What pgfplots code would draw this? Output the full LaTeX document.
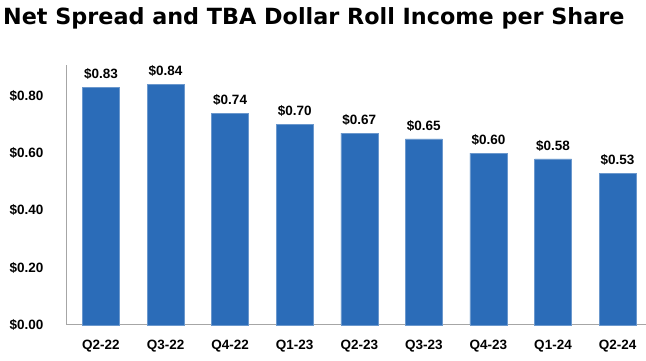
\documentclass[border=0pt]{standalone}
\usepackage{pgfplots}
\pgfplotsset{compat=1.18}
\usepackage{fontspec}
\setmainfont{Liberation Sans}
\newfontfamily\titlefont{DejaVu Sans}
\definecolor{barblue}{HTML}{2B6CB8}
\definecolor{axgray}{HTML}{A6A6A6}
\begin{document}
\begin{tikzpicture}
\useasboundingbox (-67pt,-36pt) rectangle (579pt,325pt);
\begin{axis}[
  at={(0pt,0pt)}, anchor=south west,
  scale only axis, width=579pt, height=260pt,
  xmin=-0.526, xmax=8.44, ymin=0, ymax=0.908,
  axis x line*=bottom, axis y line*=left,
  axis line style={axgray, line width=1pt},
  /pgf/number format/assume math mode=true,
  xtick=data,
  xticklabels={Q2-22,Q3-22,Q4-22,Q1-23,Q2-23,Q3-23,Q4-23,Q1-24,Q2-24},
  ytick={0,0.2,0.4,0.6,0.8},
  yticklabels={\$0.00,\$0.20,\$0.40,\$0.60,\$0.80},
  major tick length=0pt,
  tick label style={font=\fontsize{13.5}{15}\selectfont\bfseries},
  xticklabel style={yshift=-12pt},
  yticklabel style={xshift=-20pt},
  ybar, bar width=37pt,
  nodes near coords={\$\pgfmathprintnumber[fixed,fixed zerofill,precision=2,assume math mode=true]{\pgfplotspointmeta}},
  nodes near coords style={font=\fontsize{13.5}{15}\selectfont\bfseries, black, yshift=4pt},
  clip=false,
]
\addplot[fill=barblue, draw=barblue!70!white, line width=0.5pt] coordinates {
 (0,0.83) (1,0.84) (2,0.74) (3,0.70) (4,0.67) (5,0.65) (6,0.60) (7,0.58) (8,0.53)};
\end{axis}
\node[anchor=west, inner sep=0pt, font=\titlefont\fontsize{22.3}{26}\selectfont\bfseries] at (-64pt,307pt) {Net Spread and TBA Dollar Roll Income per Share};
\end{tikzpicture}
\end{document}
